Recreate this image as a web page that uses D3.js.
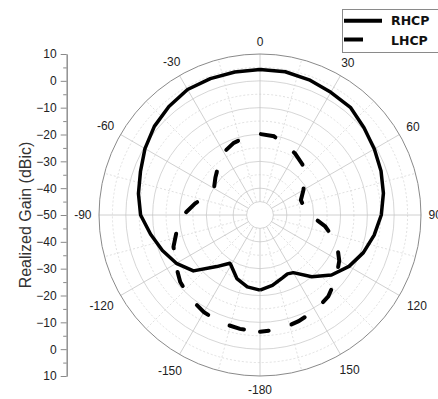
<!DOCTYPE html>
<html><head><meta charset="utf-8">
<script src="https://cdn.jsdelivr.net/npm/d3@7"></script>
<style>
html,body{margin:0;padding:0;background:#fff;}
svg{display:block;font-family:"Liberation Sans",Arial,sans-serif;}
</style></head>
<body>
<svg id="chart" width="438" height="399"></svg>
<script>
// ---- data (angle in degrees, gain in dBic) ----
const rhcpAngles = [-180,-170,-160,-150,-148,-140,-130,-120,-110,-100,-90,-80,-70,-60,-50,-40,-30,-20,-10,0,10,20,30,40,50,60,70,80,90,100,110,120,130,140,150,155,160,170,180];
const rhcpGain   = [-22.0,-22.8,-24.8,-28.4,-28.8,-24.9,-17.6,-14.0,-11.3,-8.6,-5.5,-4.0,-2.6,-0.5,1.4,2.8,4.0,4.1,4.1,4.2,4.2,3.6,2.8,2.4,0.6,-0.8,-2.0,-3.3,-4.8,-6.8,-9.0,-11.7,-15.2,-20.0,-25.2,-25.8,-25.2,-23.4,-22.0];
const lhcpAngles = [-180,-170,-160,-150,-140,-130,-120,-110,-100,-90,-80,-70,-60,-50,-40,-30,-20,-10,0,10,20,30,40,50,60,70,80,90,100,110,120,130,140,150,160,170,180];
const lhcpGain   = [-6.5,-6.9,-7.3,-8.2,-9.5,-11.2,-13.6,-15.7,-18.6,-21.4,-25.4,-29.0,-30.2,-28.3,-25.9,-23.0,-21.4,-20.5,-19.8,-20.2,-22.0,-23.7,-25.4,-28.5,-31.3,-33.8,-33.3,-31.3,-25.3,-19.5,-15.9,-13.0,-10.4,-8.9,-7.9,-6.7,-6.5];
const radialTicks = [-50,-40,-30,-20,-10,0,10];
const radialTicksLower = [-40,-30,-20,-10,0,10];
const angleLabels = [0,30,60,90,120,150,180,-150,-120,-90,-60,-30];
const angleLabelText = ["0","30","60","90","120","150","-180","-150","-120","-90","-60","-30"];
const seriesNames = ["RHCP","LHCP"];

// ---- layout ----
const cx = 260, cy = 215, R = 161;
const svg = d3.select("#chart");
const rScale = d3.scaleLinear().domain([-50,10]).range([0,R]);
const rad = d => d*Math.PI/180;

const g = svg.append("g").attr("transform",`translate(${cx},${cy})`);

// grid circles
const solidC = d3.range(-40, 10, 10);
const dotC = d3.range(-35, 10, 10);
g.selectAll("circle.dot").data(dotC).join("circle")
  .attr("r", d=>rScale(d)).attr("fill","none")
  .attr("stroke","#d8d8d8").attr("stroke-width",0.8).attr("stroke-dasharray","2,2");
g.selectAll("circle.sol").data(solidC.concat([-45])).join("circle")
  .attr("r", d=>rScale(d)).attr("fill","none")
  .attr("stroke","#cccccc").attr("stroke-width",0.8);

// radial lines
const r0 = rScale(-45);
const majorA = d3.range(0,360,30), minorA = d3.range(15,360,30);
g.selectAll("line.minA").data(minorA).join("line")
  .attr("x1",d=>r0*Math.sin(rad(d))).attr("y1",d=>-r0*Math.cos(rad(d)))
  .attr("x2",d=>R*Math.sin(rad(d))).attr("y2",d=>-R*Math.cos(rad(d)))
  .attr("stroke","#d8d8d8").attr("stroke-width",0.8).attr("stroke-dasharray","2,2");
g.selectAll("line.majA").data(majorA).join("line")
  .attr("x1",d=>r0*Math.sin(rad(d))).attr("y1",d=>-r0*Math.cos(rad(d)))
  .attr("x2",d=>R*Math.sin(rad(d))).attr("y2",d=>-R*Math.cos(rad(d)))
  .attr("stroke","#c4c4c4").attr("stroke-width",0.8);

// outer circle
g.append("circle").attr("r",R).attr("fill","none").attr("stroke","#8a8a8a").attr("stroke-width",1);

// angle labels
const hh = 4.5;
angleLabels.forEach((a,i)=>{
  const t = g.append("text").attr("text-anchor","middle").attr("dominant-baseline","central")
    .attr("font-size",12).attr("fill","#222").text(angleLabelText[i]);
  const hw = t.node().getComputedTextLength()/2;
  const s = Math.sin(rad(a)), c = Math.cos(rad(a));
  const ext = Math.abs(hw*s) + Math.abs(hh*c);
  const rr = R + 7.5 + (c < -0.1 ? 1.8 : 0) + ext;
  t.attr("x", rr*s).attr("y", -rr*c);
});

// series
const line = d3.lineRadial().curve(d3.curveLinear);
const rh = rhcpAngles.map((a,i)=>[rad(a), rScale(rhcpGain[i])]);
const lh = lhcpAngles.map((a,i)=>[rad(a), rScale(lhcpGain[i])]);
g.append("path").attr("d", line(rh)).attr("fill","none")
  .attr("stroke","#000").attr("stroke-width",3.5).attr("stroke-linejoin","round");
g.append("path").attr("d", line(lh)).attr("fill","none")
  .attr("stroke","#000").attr("stroke-width",4).attr("stroke-linecap","round")
  .attr("stroke-dasharray","15,24").attr("stroke-dashoffset",22.8);

// left axis (mirrored)
const axX = 66.7;
const yTop = d3.scaleLinear().domain([-50,10]).range([cy, cy-R]);
const yBot = d3.scaleLinear().domain([-50,10]).range([cy, cy+R]);
const axG = svg.append("g").attr("transform",`translate(${axX},0)`);
const ax1 = axG.append("g").call(d3.axisLeft(yTop).tickValues(radialTicks).tickSize(6).tickSizeOuter(0).tickPadding(4));
const ax2 = axG.append("g").call(d3.axisLeft(yBot).tickValues(radialTicksLower).tickSize(6).tickSizeOuter(0).tickPadding(4));
const ax1m = axG.append("g").call(d3.axisLeft(yTop).tickValues(d3.range(-45,10,10)).tickSize(3.5).tickFormat("").tickSizeOuter(0));
const ax2m = axG.append("g").call(d3.axisLeft(yBot).tickValues(d3.range(-45,10,10)).tickSize(3.5).tickFormat("").tickSizeOuter(0));
[ax1,ax2,ax1m,ax2m].forEach(a=>{
  a.selectAll(".domain").attr("stroke","#8a8a8a");
  a.selectAll(".tick line").attr("stroke","#8a8a8a");
  a.selectAll(".tick text").attr("font-size",12).attr("fill","#222").attr("font-family","Liberation Sans, Arial, sans-serif");
});

// axis title
svg.append("text").attr("transform",`translate(31,${cy}) rotate(-90)`)
  .attr("text-anchor","middle").attr("font-size",16).attr("fill","#333")
  .text("Realized Gain (dBic)");

// legend
const lg = svg.append("g");
lg.append("rect").attr("x",342.5).attr("y",9.5).attr("width",110).attr("height",43)
  .attr("fill","#fff").attr("stroke","#8a8a8a").attr("stroke-width",1);
lg.append("line").attr("x1",344).attr("x2",382).attr("y1",20.7).attr("y2",20.7)
  .attr("stroke","#000").attr("stroke-width",4);
lg.append("line").attr("x1",344).attr("x2",363).attr("y1",39.5).attr("y2",39.5)
  .attr("stroke","#000").attr("stroke-width",4);
lg.selectAll("text.lt").data(seriesNames).join("text")
  .attr("x",391).attr("y",(d,i)=>i===0?25:44.5)
  .attr("font-family","DejaVu Sans, sans-serif").attr("font-weight","bold")
  .attr("font-size",12.5).attr("fill","#111").text(d=>d);
</script>
</body></html>
